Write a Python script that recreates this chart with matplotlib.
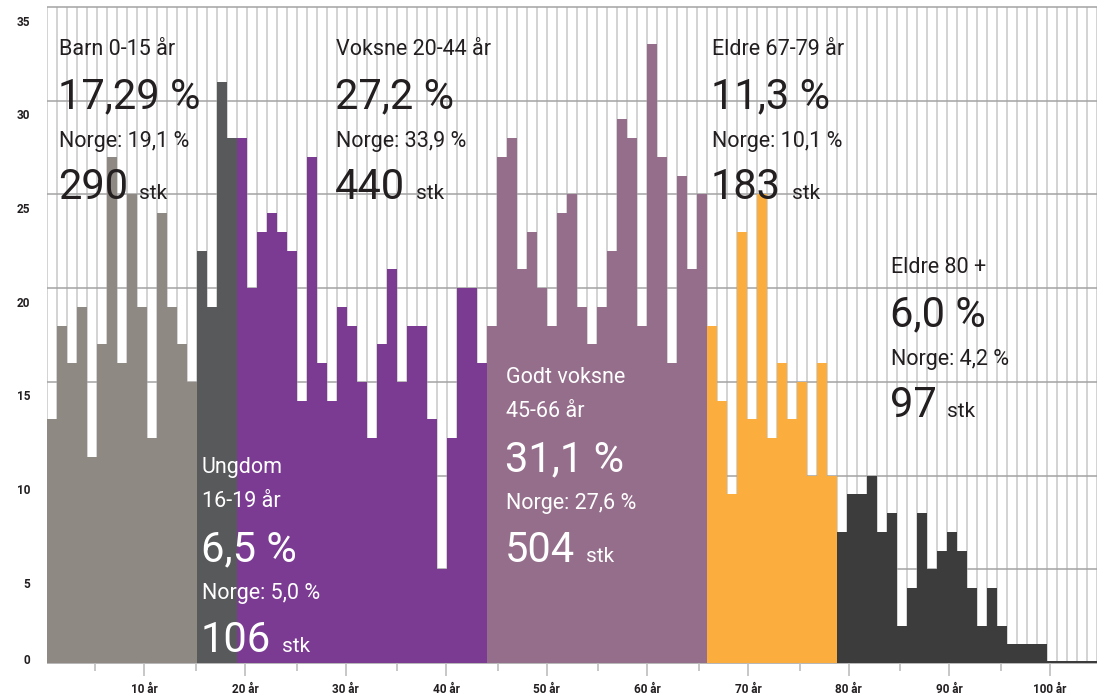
import numpy as np
import matplotlib.pyplot as plt
from matplotlib.transforms import blended_transform_factory, ScaledTranslation

plt.rcParams['font.family'] = ['Roboto', 'DejaVu Sans']

# antall personer per alder (1-105 år)
barn = [13, 18, 16, 19, 11, 17, 27, 16, 25, 19, 12, 24, 19, 17, 15]            # 1-15
ungdom = [22, 19, 31, 28]                                                      # 16-19
voksne = [28, 20, 23, 24, 23, 22, 14, 27, 16, 14, 19, 18, 15, 12, 17,
          21, 15, 18, 18, 13, 5, 12, 20, 20, 16]                               # 20-44
godt_voksne = [18, 27, 28, 21, 23, 20, 18, 24, 25, 19, 17, 19, 22, 29, 28,
               18, 33, 27, 16, 26, 21, 25]                                     # 45-66
eldre = [18, 14, 9, 23, 13, 25, 12, 16, 13, 15, 10, 16, 10]                    # 67-79
eldre80 = [7, 9, 9, 10, 7, 8, 2, 4, 8, 5, 6, 7, 6, 4, 2, 4, 2, 1, 1, 1, 1,
           0.1, 0.1, 0.1, 0.1, 0.1]                                            # 80-105

grupper = [barn, ungdom, voksne, godt_voksne, eldre, eldre80]
start_alder = [1, 16, 20, 45, 67, 80]
farger = ['#8f8983', '#58595b', '#7b3b93', '#956e8c', '#fbae3e', '#3c3c3c']

titler = ['Barn 0-15 år', 'Ungdom\n16-19 år', 'Voksne 20-44 år',
          'Godt voksne\n45-66 år', 'Eldre 67-79 år', 'Eldre 80 +']
andel = ['17,29 %', '6,5 %', '27,2 %', '31,1 %', '11,3 %', '6,0 %']
norge = ['Norge: 19,1 %', 'Norge: 5,0 %', 'Norge: 33,9 %',
         'Norge: 27,6 %', 'Norge: 10,1 %', 'Norge: 4,2 %']
antall = ['290', '106', '440', '504', '183', '97']

W, H = 1097, 694
fig = plt.figure(figsize=(W / 100, H / 100), dpi=100)
ax = fig.add_axes([47 / W, 31 / H, 1050 / W, 656 / H])

# rutenett
ax.vlines(np.arange(0.5, 106, 1), 0, 35, color='#c8c8c8', lw=1.1, zorder=0)
ax.hlines(np.arange(0, 36, 5), 0.5, 105.5, color='#a3a3a3', lw=1.1, zorder=0.5,
          clip_on=False)

for verdier, a0, farge in zip(grupper, start_alder, farger):
    x = np.arange(a0, a0 + len(verdier))
    ax.bar(x, verdier, width=1.0, color=farge, linewidth=0, zorder=2)

ax.set_xlim(0.5, 105.5)
ax.set_ylim(0, 35)
for s in ax.spines.values():
    s.set_visible(False)

# aksemerkene i originalen ligger litt forskjøvet i forhold til søylene
major = np.arange(10, 101, 10)
minor = np.arange(5, 100, 10)
ax.set_xticks(major * 1.006 + 0.17)
ax.set_xticklabels([f'{v} år' for v in major])
ax.set_xticks(minor * 1.006 + 0.3, minor=True)
ax.tick_params(axis='x', which='major', length=9.5, width=1.2, color='#bdbdbd',
               pad=5, labelsize=8.5, labelcolor='#231f20')
ax.tick_params(axis='x', which='minor', length=6, width=1.2, color='#bdbdbd')
for lab in ax.get_xticklabels():
    lab.set_fontweight('bold')
ax.set_yticks([])

# y-etiketter litt under linjene
trans = blended_transform_factory(ax.transAxes, ax.transData)
for v in range(0, 36, 5):
    dy = 2 if v == 0 else -15
    t = trans + ScaledTranslation(0, dy / 100, fig.dpi_scale_trans)
    ax.text(-17 / 1050, v, str(v), transform=t, ha='right', va='center',
            fontsize=8.5, fontweight='bold', color='#231f20')

# tekstblokker
posisjoner = [(59, 55), (201.7, 472.7), (336, 55), (506, 382.7), (711.7, 55), (890.7, 273.3)]
tekstfarger = ['#231f20', 'white', '#231f20', 'white', '#231f20', '#231f20']

fig.canvas.draw()
renderer = fig.canvas.get_renderer()


def px(x, y):
    return x / W, 1 - y / H


for i in range(6):
    x0, y0 = posisjoner[i]
    c = tekstfarger[i]
    linjer = titler[i].split('\n')
    for j, l in enumerate(linjer):
        fig.text(*px(x0, y0 + 34.6 * j), l, fontsize=15.5, color=c, va='baseline')
    if len(linjer) == 2:
        offs = [89, 126.5, 179.3]
    else:
        offs = [53.5, 91.6, 144.2]
    fig.text(*px(x0 - 1, y0 + offs[0]), andel[i], fontsize=30, color=c, va='baseline')
    fig.text(*px(x0, y0 + offs[1]), norge[i], fontsize=15.5, color=c, va='baseline')
    tn = fig.text(*px(x0 - 1, y0 + offs[2]), antall[i], fontsize=30, color=c, va='baseline')
    bb = tn.get_window_extent(renderer)
    fig.text(*px(bb.x1 + 11, y0 + offs[2]), 'stk', fontsize=15, color=c, va='baseline')

fig.savefig('out.png', dpi=100)
